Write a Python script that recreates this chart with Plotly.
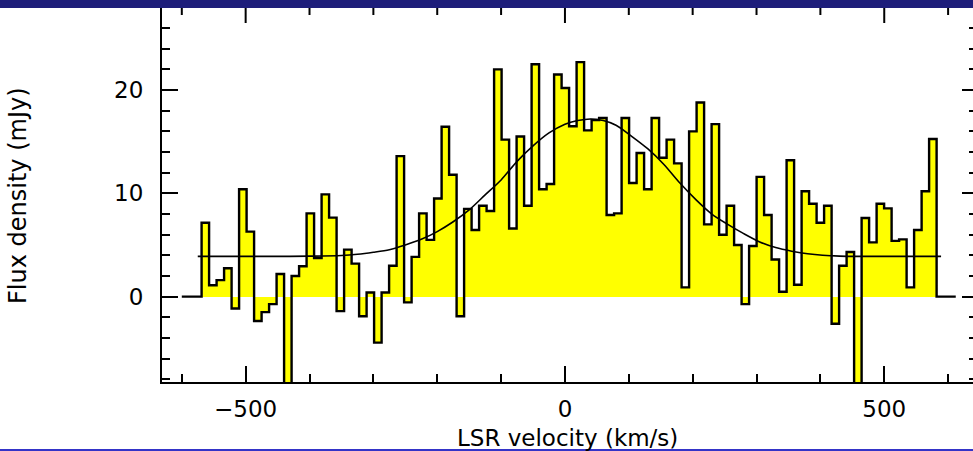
import numpy as np
import plotly.graph_objects as go

# Spectrum channels: first channel lower edge and channel width (km/s)
VEL_START = -569.0
CHAN_WIDTH = 11.745

# Flux density per channel (mJy)
FLUX = [
    7.16, 1.1, 1.6, 2.75, -1.15, 10.4, 6.3, -2.35, -1.5, -0.72,
    2.2, -12.0, 2.0, 2.95, 8.06, 3.75, 9.9, 7.65, -1.4, 4.55,
    3.2, -1.9, 0.4, -4.45, 0.4, 3.0, 13.6, -0.55, 3.85, 8.06,
    5.5, 9.5, 16.45, 11.8, -1.9, 8.5, 6.45, 8.8, 8.3, 22.0,
    15.2, 6.6, 15.5, 8.8, 22.5, 10.4, 10.9, 21.5, 20.2, 16.5,
    22.7, 16.1, 17.1, 17.3, 7.9, 8.06, 17.3, 11.0, 13.9, 10.4,
    17.3, 13.45, 15.2, 12.9, 0.9, 16.0, 18.8, 7.0, 16.7, 6.0,
    8.8, 5.0, -0.72, 4.9, 11.6, 7.9, 3.6, 0.48, 13.2, 1.15,
    10.2, 9.0, 7.16, 8.8, -2.62, 3.0, 4.33, -11.0, 7.62, 5.26,
    9.0, 8.55, 5.4, 5.55, 0.9, 6.45, 10.2, 15.26,
]

# Zero-level padding drawn on either side of the spectrum (km/s)
PAD_LEFT = -600.0
PAD_RIGHT = 612.0

# Gaussian-plus-baseline fit, sampled (km/s, mJy)
FIT_VEL = [-575, -450, -400, -350, -325, -300, -275, -250, -225, -200,
           -175, -150, -125, -100, -75, -50, -25, 0, 20, 40,
           60, 80, 105, 130, 155, 180, 205, 230, 255, 280,
           305, 330, 355, 380, 430, 480, 589]
FIT_FLUX = [3.9, 3.9, 3.92, 3.98, 4.1, 4.3, 4.55, 5.0, 5.55, 6.3,
            7.25, 8.4, 9.85, 11.3, 13.1, 14.6, 15.85, 16.7, 17.05, 17.2,
            17.05, 16.6, 15.5, 14.3, 12.8, 11.0, 9.4, 8.0, 7.0, 6.1,
            5.3, 4.75, 4.4, 4.15, 3.92, 3.9, 3.9]

# velocity tick marks along the top frame edge (km/s)
TOP_TICKS = [-600, -500, -400, -300, -200, -100, 0, 100, 200, 300, 400, 500, 600]

n = len(FLUX)
edges = VEL_START + CHAN_WIDTH * np.arange(n + 1)
centers = edges[:-1] + CHAN_WIDTH / 2

# step outline: zero pad, channel steps, zero pad
step_x = [PAD_LEFT] + list(edges[:-1]) + [edges[-1], PAD_RIGHT]
step_y = [0.0] + list(FLUX) + [0.0, 0.0]

fig = go.Figure()
fig.add_trace(go.Bar(
    x=centers, y=FLUX, width=CHAN_WIDTH, base=0,
    marker=dict(color="#ffff00", line=dict(width=0)),
    hoverinfo="skip",
))
fig.add_trace(go.Scatter(
    x=step_x, y=step_y, mode="lines",
    line=dict(color="black", width=2.4, shape="hv"),
    hoverinfo="skip",
))
# the fit sits on the right-hand axis, which shares the same range
fig.add_trace(go.Scatter(
    x=FIT_VEL, y=FIT_FLUX, mode="lines", yaxis="y2",
    line=dict(color="black", width=1.6, shape="spline", smoothing=0.8),
    hoverinfo="skip",
))

XR = [-631, 639]
YR = [-8.26, 28.04]
PLOT_H = 375  # plot-area height in px
tick_common = dict(tickcolor="black", tickwidth=2,
                   showgrid=False, zeroline=False)

fig.update_layout(
    width=973, height=451,
    margin=dict(l=162, r=0, t=7, b=69),
    paper_bgcolor="white", plot_bgcolor="white",
    showlegend=False, bargap=0,
    font=dict(family="DejaVu Sans", size=23, color="black"),
    xaxis=dict(range=XR, dtick=500, tick0=0, ticks="inside", ticklen=16,
               showline=True, linewidth=2, linecolor="black",
               ticklabelstandoff=5,
               minor=dict(dtick=100, tick0=0, ticks="inside", ticklen=8,
                          tickwidth=2, tickcolor="black", showgrid=False),
               **tick_common),
    yaxis=dict(range=YR, dtick=10, tick0=0, ticks="inside", ticklen=16,
               showline=True, linewidth=2, linecolor="black",
               ticklabelstandoff=12,
               minor=dict(dtick=2, tick0=0, ticks="inside", ticklen=8,
                          tickwidth=2, tickcolor="black", showgrid=False),
               **tick_common),
    yaxis2=dict(range=YR, overlaying="y", side="right", anchor="x",
                dtick=10, tick0=0, ticks="inside", ticklen=11,
                showticklabels=False, showline=False,
                minor=dict(dtick=2, tick0=0, ticks="inside", ticklen=4,
                           tickwidth=2, tickcolor="black", showgrid=False),
                **tick_common),
)

# tick marks hanging from the top frame edge
for v in TOP_TICKS:
    length = 16 if v % 500 == 0 else 8
    fig.add_shape(type="line", xref="x", yref="paper",
                  x0=v, x1=v, y0=1, y1=1 - length / PLOT_H,
                  line=dict(color="black", width=2), layer="above")

# axis titles
fig.add_annotation(text="LSR velocity (km/s)", xref="paper", yref="paper",
                   x=0.5006, y=(382 - 438) / PLOT_H, xanchor="center", yanchor="middle",
                   showarrow=False, font=dict(size=23))
fig.add_annotation(text="Flux density (mJy)", xref="paper", yref="paper",
                   x=(18 - 162) / 811, y=0.496, xanchor="center", yanchor="middle",
                   textangle=-90, showarrow=False, font=dict(size=24))

# page frame: navy band along the top, blue rule along the bottom
fig.add_shape(type="rect", xref="paper", yref="paper",
              x0=-0.25, x1=1.05, y0=1 - 1 / PLOT_H, y1=1 + 10 / PLOT_H,
              fillcolor="#1e1e7a", line=dict(width=0), layer="above")
fig.add_shape(type="rect", xref="paper", yref="paper",
              x0=-0.25, x1=1.05, y0=(382 - 452) / PLOT_H, y1=(382 - 449) / PLOT_H,
              fillcolor="#3434c8", line=dict(width=0), layer="above")

fig.write_html("out.html")
